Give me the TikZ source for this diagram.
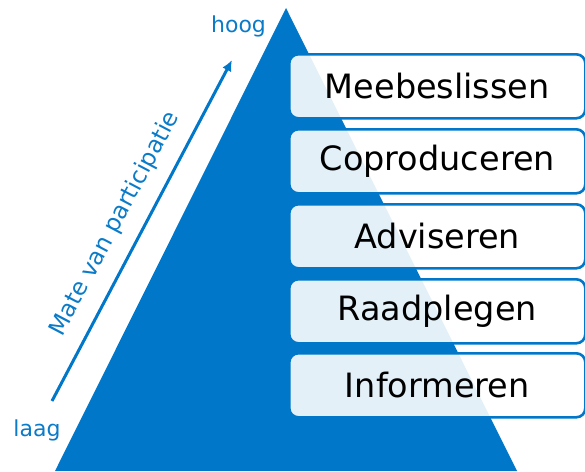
\documentclass[tikz,border=0pt]{standalone}
\usepackage{fontspec}
\setmainfont{DejaVu Sans}
\usetikzlibrary{arrows.meta}
\definecolor{pblue}{HTML}{0077C8}
\definecolor{tblue}{HTML}{0A7BC9}
\begin{document}
\begin{tikzpicture}[x=1pt,y=-1pt,
  level/.style={draw=pblue, line width=2.6pt, fill=white, fill opacity=0.89, text opacity=1,
    rounded corners=9pt, minimum width=296pt, minimum height=64pt, inner sep=0pt,
    anchor=north west, font=\fontsize{33.5}{36}\selectfont, text=black},
  lbl/.style={text=tblue, font=\fontsize{22}{24}\selectfont, inner sep=0pt}]
\useasboundingbox (0,0) rectangle (585,471);
\fill[pblue] (286,8) -- (517,471) -- (55,471) -- cycle;
\node[level] (m) at (288,53) {Meebeslissen};
\node[level] (c) at (288,128) {Coproduceren};
\node[level] (a) at (288,203) {Adviseren};
\node[level] (r) at (288,278) {Raadplegen};
\node[level] (i) at (288,352) {Informeren};
\coordinate (lo) at (52,401);
\coordinate (hi) at (232,60);
\draw[pblue, line width=3pt, -{Latex[length=11pt,width=10pt]}] (lo) -- (hi);
\node[lbl, anchor=base] (hoog) at (238.5,32) {hoog};
\node[lbl, anchor=base] (laag) at (37,436) {laag};
\node[lbl, font=\fontsize{23.5}{26}\selectfont, rotate=62.2] (mate) at (115,224) {Mate van participatie};
\end{tikzpicture}
\end{document}
